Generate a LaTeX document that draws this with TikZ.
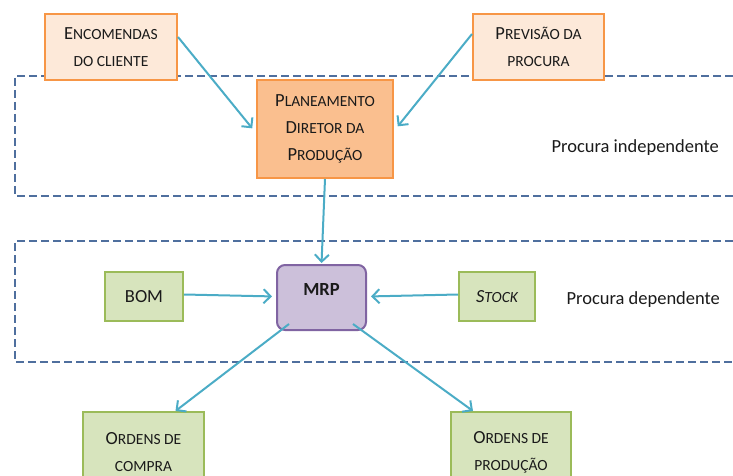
\documentclass[tikz,border=0pt]{standalone}
\usepackage{fontspec}
\setmainfont{Carlito}
\usetikzlibrary{arrows.meta,calc}

\definecolor{orangeline}{HTML}{F79646}
\definecolor{orangepale}{HTML}{FDE9D9}
\definecolor{orangemid}{HTML}{FABF8F}
\definecolor{greenline}{HTML}{9BBB59}
\definecolor{greenfill}{HTML}{D7E4BD}
\definecolor{purpleline}{HTML}{8064A2}
\definecolor{purplefill}{HTML}{CCC0DA}
\definecolor{flowline}{HTML}{4BACC6}
\definecolor{zoneline}{HTML}{4F6F9E}
\definecolor{textdark}{HTML}{1A1A1A}

% faked small capitals
\newcommand{\smc}[1]{{\fontsize{15.5pt}{27pt}\selectfont #1}}

\tikzset{
  box/.style={draw, line width=2pt, align=center, text=textdark,
    font=\fontsize{18.5pt}{27pt}\selectfont, inner sep=0pt},
  inbox/.style={box, draw=orangeline, fill=orangepale},
  planbox/.style={box, draw=orangeline, fill=orangemid},
  databox/.style={box, draw=greenline, fill=greenfill},
  corebox/.style={box, draw=purpleline, fill=purplefill, rounded corners=8pt},
  zone/.style={draw=zoneline, line width=2pt, dash pattern=on 8pt off 4pt},
  flow/.style={draw=flowline, line width=2pt,
    -{Straight Barb[length=7pt,width=14pt,line width=2pt]}},
  zonelabel/.style={font=\fontsize{18.5pt}{20pt}\selectfont, text=textdark, anchor=west}
}

\begin{document}
\begin{tikzpicture}[x=1pt,y=-1pt]
\useasboundingbox (0,0) rectangle (733,476);
\clip (0,0) rectangle (733,476);

% demand zones
\draw[zone] (745,76) -- (15,76) -- (15,196) -- (745,196);
\draw[zone] (745,241) -- (15,241) -- (15,362) -- (745,362);
\node[zonelabel] (indep) at (548,148) {Procura independente};
\node[zonelabel] (dep) at (563,300) {Procura dependente};

% nodes
\node[inbox, minimum width=132pt, minimum height=66pt] (enc) at (111,47)
  {E\smc{NCOMENDAS}\\\smc{DO CLIENTE}};
\node[inbox, minimum width=131pt, minimum height=66pt] (prev) at (538.5,47)
  {P\smc{REVISÃO DA}\\\smc{PROCURA}};
\node[planbox, minimum width=136pt, minimum height=98pt] (pdp) at (325,129)
  {P\smc{LANEAMENTO}\\D\smc{IRETOR DA}\\P\smc{RODUÇÃO}};
\node[corebox, minimum width=89pt, minimum height=65pt,
  label={[font=\fontsize{18.5pt}{20pt}\selectfont\bfseries, text=textdark, yshift=8pt]center:MRP}] (mrp) at (321.5,297.5) {};
\node[databox, minimum width=78pt, minimum height=49pt] (bom) at (144,296.5) {BOM};
\node[databox, minimum width=76pt, minimum height=49pt] (stock) at (497,296.5)
  {\itshape S\smc{TOCK}};
\node[databox, minimum width=121pt, minimum height=80pt] (oc) at (143.5,452)
  {O\smc{RDENS DE}\\\smc{COMPRA}};
\node[databox, minimum width=120pt, minimum height=80pt] (op) at (511,452)
  {O\smc{RDENS DE}\\\smc{PRODUÇÃO}};

% connectors
\draw[flow, shorten >=6pt] ([yshift=10pt]enc.east) -- ([yshift=-4pt]pdp.west);
\draw[flow, shorten >=6pt] ([yshift=13pt]prev.west) -- ([yshift=-2pt]pdp.east);
\draw[flow, shorten >=1pt] (pdp.south) -- (mrp.north);
\draw[flow, shorten >=4pt] ([yshift=2pt]bom.east) -- ([yshift=1pt]mrp.west);
\draw[flow, shorten >=4pt] ([yshift=2pt]stock.west) -- ([yshift=1pt]mrp.east);
\draw[flow] ([xshift=13pt,yshift=7pt]mrp.south west) -- ([xshift=32pt]oc.north);
\draw[flow] ([xshift=-14pt,yshift=7pt]mrp.south east) -- ([xshift=-38pt]op.north);
\end{tikzpicture}
\end{document}
